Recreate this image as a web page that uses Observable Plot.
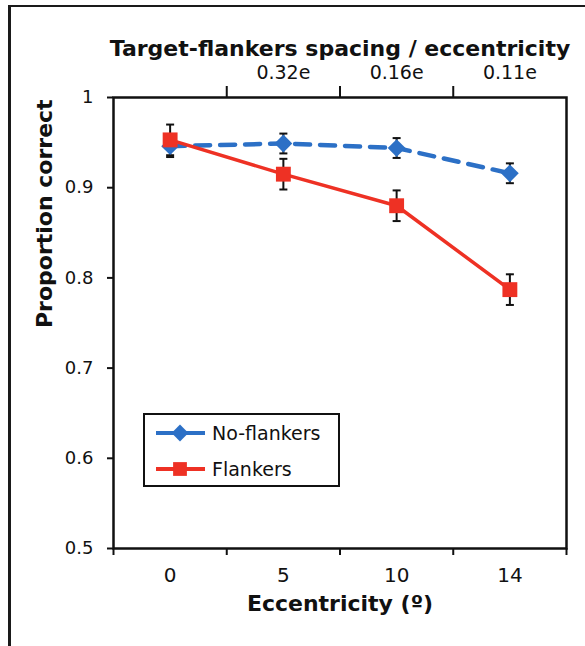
<!DOCTYPE html>
<html>
<head>
<meta charset="utf-8">
<script src="https://cdn.jsdelivr.net/npm/d3@7"></script>
<script src="https://cdn.jsdelivr.net/npm/@observablehq/plot@0.6"></script>
<style>
  body { margin: 0; background: white; }
  #wrap { position: relative; width: 585px; height: 646px; overflow: hidden; font-family: "DejaVu Sans", sans-serif; }
  #frame { position: absolute; left: 8px; top: 5px; width: 600px; height: 660px; border-left: 3px solid #1a1a1a; border-top: 2.5px solid #1a1a1a; pointer-events: none; }
  #legend { position: absolute; left: 143px; top: 413px; width: 193px; height: 70px; border: 2px solid #111; background: white; }
</style>
</head>
<body>
<div id="wrap"></div>
<script>
// ---- data ----
const eccentricities = ["0", "5", "10", "14"];
const spacingLabels = ["", "0.32e", "0.16e", "0.11e"];
const noFlankers = [0.946, 0.949, 0.944, 0.916];
const noFlankersErr = [0.012, 0.011, 0.011, 0.011];
const flankers = [0.953, 0.915, 0.880, 0.787];
const flankersErr = [0.017, 0.017, 0.017, 0.017];
const yTicks = [0.5, 0.6, 0.7, 0.8, 0.9, 1];
const yTickLabels = ["0.5", "0.6", "0.7", "0.8", "0.9", "1"];
const seriesNames = ["No-flankers", "Flankers"];
const seriesColors = ["#2c70c6", "#ee3124"];
const titleTop = "Target-flankers spacing / eccentricity";
const titleX = "Eccentricity (º)";
const titleY = "Proportion correct";

const idx = eccentricities.map((_, i) => i);
const bounds = idx.map(i => i - 0.5).concat([idx.length - 0.5]);
const innerBounds = bounds.slice(1, -1);

const rows = (vals, errs, name) => vals.map((v, i) => ({i, v, lo: v - errs[i], hi: v + errs[i], name}));
const noF = rows(noFlankers, noFlankersErr, seriesNames[0]);
const fl = rows(flankers, flankersErr, seriesNames[1]);
const all = noF.concat(fl);

const capSymbol = {
  draw(context, size) {
    const w = Math.sqrt(size / Math.PI);
    context.moveTo(-w, 0);
    context.lineTo(w, 0);
  }
};

const chart = Plot.plot({
  width: 585,
  height: 646,
  marginLeft: 113,
  marginRight: 19,
  marginTop: 97,
  marginBottom: 98,
  style: {fontFamily: "DejaVu Sans, sans-serif", background: "transparent", color: "#111"},
  x: {domain: [bounds[0], bounds[bounds.length - 1]], axis: null},
  y: {domain: [yTicks[0], yTicks[yTicks.length - 1]], axis: null},
  marks: [
    // axes
    Plot.axisY(yTicks, {anchor: "left", tickSize: 6, tickPadding: 14, strokeWidth: 2, fontSize: 18,
      tickFormat: (d) => yTickLabels[yTicks.indexOf(d)], label: null}),
    Plot.axisX(idx, {anchor: "bottom", tickSize: 0, tickPadding: 19, fontSize: 20,
      tickFormat: (i) => eccentricities[i], label: null}),
    Plot.axisX(bounds, {anchor: "bottom", tickSize: 7, strokeWidth: 2, tickFormat: () => "", label: null}),
    Plot.axisX(idx.slice(1), {anchor: "top", tickSize: 0, tickPadding: 19, fontSize: 19,
      tickFormat: (i) => spacingLabels[i], label: null}),
    Plot.axisX(innerBounds, {anchor: "top", tickSize: 12, strokeWidth: 2, tickFormat: () => "", label: null}),
    Plot.frame({stroke: "#111", strokeWidth: 2.5}),
    // titles
    Plot.text([titleTop], {frameAnchor: "top", dy: -57, fontSize: 22, fontWeight: "bold", fill: "#111"}),
    Plot.text([titleX], {frameAnchor: "bottom", dy: 62, fontSize: 22, fontWeight: "bold", fill: "#111"}),
    Plot.text([titleY], {frameAnchor: "left", dx: -69, dy: 5, rotate: -90, fontSize: 22, fontWeight: "bold", fill: "#111"}),
    // error bars
    Plot.ruleX(all, {x: "i", y1: "lo", y2: "hi", stroke: "#111", strokeWidth: 2}),
    Plot.dot(all, {x: "i", y: "hi", symbol: capSymbol, r: 4, stroke: "#111", strokeWidth: 2, fill: "none"}),
    Plot.dot(all, {x: "i", y: "lo", symbol: capSymbol, r: 4, stroke: "#111", strokeWidth: 2, fill: "none"}),
    // no-flankers
    Plot.line(noF, {x: "i", y: "v", stroke: seriesColors[0], strokeWidth: 4.5, strokeDasharray: "15,10"}),
    Plot.dot(noF, {x: "i", y: "v", symbol: "diamond2", r: 8, fill: seriesColors[0]}),
    // flankers
    Plot.line(fl, {x: "i", y: "v", stroke: seriesColors[1], strokeWidth: 3.5}),
    Plot.dot(fl, {x: "i", y: "v", symbol: "square", r: 8.4, fill: seriesColors[1]})
  ]
});

const wrap = document.getElementById("wrap");
wrap.appendChild(chart);

// legend
const legend = document.createElement("div");
legend.id = "legend";
const lsvg = d3.create("svg").attr("width", 193).attr("height", 70)
  .style("font-family", "DejaVu Sans, sans-serif");
const symbols = [d3.symbolDiamond2, d3.symbolSquare];
const symSizes = [180, 190];
seriesNames.forEach((name, k) => {
  const cy = 18 + k * 36;
  const g = lsvg.append("g").attr("transform", `translate(0,${cy})`);
  g.append("line").attr("x1", 11).attr("x2", 60).attr("y1", 0).attr("y2", 0)
    .attr("stroke", seriesColors[k]).attr("stroke-width", 4);
  g.append("path").attr("d", d3.symbol(symbols[k], symSizes[k])())
    .attr("transform", "translate(35,0)").attr("fill", seriesColors[k]);
  g.append("text").attr("x", 67).attr("y", 0).attr("dy", "0.36em")
    .attr("font-size", 19).attr("fill", "#111").text(name);
});
legend.appendChild(lsvg.node());
wrap.appendChild(legend);

const frame = document.createElement("div");
frame.id = "frame";
wrap.appendChild(frame);
</script>
</body>
</html>
